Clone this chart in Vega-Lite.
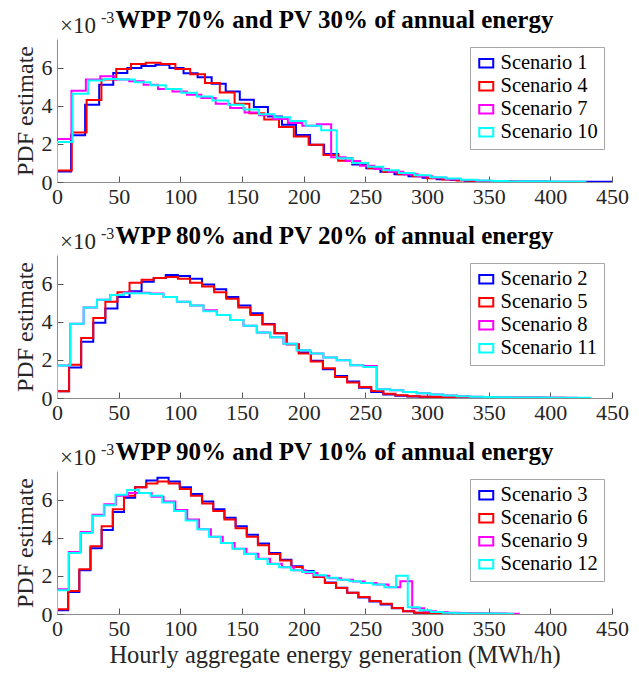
{
  "$schema": "https://vega.github.io/schema/vega-lite/v6.json",
  "background": "white",
  "padding": {"left": 12, "top": 8, "right": 5, "bottom": 5},
  "spacing": 17,
  "datasets": {
    "hist": [
      {"panel": 1, "scenario": "Scenario 1",
       "x": [0, 0, 11.4, 22.8, 34.2, 45.6, 57, 68.4, 79.8, 91.2, 102.6, 114, 125.4, 136.8, 148.2, 159.6, 171, 182.4, 193.8, 205.2, 216.6, 228, 239.4, 250.8, 262.2, 273.6, 285, 296.4, 307.8, 319.2, 330.6, 342, 353.4, 364.8, 376.2, 387.6, 399, 410.4, 421.8, 433.2, 444.6, 456],
       "pdf": [0, 0.55, 2.45, 4.05, 5.1, 5.72, 5.98, 6.08, 6.15, 5.98, 5.7, 5.5, 5.15, 4.75, 4.32, 3.93, 3.44, 3.0, 2.47, 1.95, 1.47, 1.24, 0.92, 0.72, 0.54, 0.4, 0.3, 0.22, 0.15, 0.1, 0.07, 0.05, 0.04, 0.03, 0.02, 0.02, 0.01, 0.01, 0.01, 0.01, 0.01, 0]},
      {"panel": 1, "scenario": "Scenario 4",
       "x": [0, 0, 12, 24, 36, 48, 60, 72, 84, 96, 108, 120, 132, 144, 156, 168, 180, 192, 204, 216, 228, 240, 252, 264, 276, 288, 300, 312, 324, 336, 348, 360, 372],
       "pdf": [0, 0.6, 2.6, 4.3, 5.37, 5.93, 6.19, 6.25, 6.19, 5.93, 5.65, 5.19, 4.7, 4.1, 3.6, 3.28, 2.88, 2.39, 1.95, 1.42, 1.12, 0.98, 0.72, 0.54, 0.4, 0.3, 0.2, 0.13, 0.08, 0.05, 0.03, 0.02, 0]},
      {"panel": 1, "scenario": "Scenario 7",
       "x": [0, 0, 11.7, 23.4, 35.1, 46.8, 58.5, 70.2, 81.9, 93.6, 105.3, 117, 128.7, 140.4, 152.1, 163.8, 175.5, 187.2, 198.9, 210.6, 222.3, 234, 245.7, 257.4, 269.1, 280.8, 292.5, 304.2, 315.9, 327.6, 339.3, 351, 362.7, 374.4],
       "pdf": [0, 2.25, 4.79, 5.38, 5.54, 5.37, 5.28, 5.1, 4.88, 4.75, 4.58, 4.4, 4.1, 3.88, 3.65, 3.5, 3.3, 3.1, 2.95, 3.03, 1.3, 1.1, 0.85, 0.68, 0.54, 0.4, 0.3, 0.22, 0.15, 0.1, 0.07, 0.05, 0.03, 0]},
      {"panel": 1, "scenario": "Scenario 10",
       "x": [0, 0, 12.6, 25.2, 37.8, 50.4, 63, 75.6, 88.2, 100.8, 113.4, 126, 138.6, 151.2, 163.8, 176.4, 189, 201.6, 214.2, 226.8, 239.4, 252, 264.6, 277.2, 289.8, 302.4, 315, 327.6, 340.2, 352.8, 365.4, 378, 390.6, 403.2, 415.8, 428.4],
       "pdf": [0, 2.1, 4.63, 5.33, 5.4, 5.37, 5.23, 5.08, 4.88, 4.68, 4.48, 4.28, 4.05, 3.8, 3.55, 3.4, 3.2, 2.95, 2.72, 1.25, 1.0, 0.8, 0.62, 0.47, 0.35, 0.25, 0.18, 0.12, 0.08, 0.05, 0.03, 0.02, 0.02, 0.01, 0.01, 0]},
      {"panel": 2, "scenario": "Scenario 2",
       "x": [0, 0, 9.8, 19.6, 29.4, 39.2, 49, 58.8, 68.6, 78.4, 88.2, 98, 107.8, 117.6, 127.4, 137.2, 147, 156.8, 166.6, 176.4, 186.2, 196, 205.8, 215.6, 225.4, 235.2, 245, 254.8, 264.6, 274.4, 284.2, 294, 303.8, 313.6, 323.4, 333.2, 343, 352.8, 362.6, 372.4, 382.2, 392],
       "pdf": [0, 0.35, 1.6, 2.95, 3.95, 4.7, 5.3, 5.6, 6.1, 6.3, 6.45, 6.4, 6.25, 5.95, 5.7, 5.3, 4.85, 4.44, 3.88, 3.39, 2.82, 2.39, 1.95, 1.51, 1.16, 0.86, 0.54, 0.32, 0.19, 0.12, 0.08, 0.06, 0.04, 0.03, 0.02, 0.02, 0.01, 0.01, 0.01, 0.01, 0.01, 0]},
      {"panel": 2, "scenario": "Scenario 5",
       "x": [0, 0, 9.8, 19.6, 29.4, 39.2, 49, 58.8, 68.6, 78.4, 88.2, 98, 107.8, 117.6, 127.4, 137.2, 147, 156.8, 166.6, 176.4, 186.2, 196, 205.8, 215.6, 225.4, 235.2, 245, 254.8, 264.6, 274.4, 284.2, 294, 303.8, 313.6, 323.4, 333.2, 343, 352.8, 362.6, 372.4, 382.2, 392, 401.8, 411.6],
       "pdf": [0, 0.35, 1.75, 3.15, 4.2, 5.05, 5.55, 6.05, 6.2, 6.3, 6.35, 6.25, 6.05, 5.85, 5.55, 5.2, 4.75, 4.35, 3.85, 3.39, 2.82, 2.33, 1.91, 1.56, 1.1, 0.81, 0.58, 0.37, 0.22, 0.14, 0.09, 0.06, 0.05, 0.04, 0.03, 0.02, 0.02, 0.01, 0.01, 0.01, 0.01, 0.01, 0.01, 0]},
      {"panel": 2, "scenario": "Scenario 8",
       "x": [0, 0, 10.8, 21.6, 32.4, 43.2, 54, 64.8, 75.6, 86.4, 97.2, 108, 118.8, 129.6, 140.4, 151.2, 162, 172.8, 183.6, 194.4, 205.2, 216, 226.8, 237.6, 248.4, 259.2, 270, 280.8, 291.6, 302.4, 313.2, 324, 334.8, 345.6, 356.4, 367.2, 378, 388.8, 399.6, 410.4, 421.2],
       "pdf": [0, 1.7, 3.9, 4.75, 5.15, 5.4, 5.53, 5.52, 5.48, 5.3, 5.05, 4.85, 4.6, 4.35, 4.09, 3.79, 3.44, 3.18, 2.85, 2.51, 2.33, 2.12, 1.98, 1.72, 1.68, 0.46, 0.4, 0.32, 0.25, 0.18, 0.13, 0.09, 0.07, 0.05, 0.04, 0.03, 0.02, 0.02, 0.01, 0.01, 0]},
      {"panel": 2, "scenario": "Scenario 11",
       "x": [0, 0, 10.8, 21.6, 32.4, 43.2, 54, 64.8, 75.6, 86.4, 97.2, 108, 118.8, 129.6, 140.4, 151.2, 162, 172.8, 183.6, 194.4, 205.2, 216, 226.8, 237.6, 248.4, 259.2, 270, 280.8, 291.6, 302.4, 313.2, 324, 334.8, 345.6, 356.4, 367.2, 378, 388.8, 399.6, 410.4, 421.2, 432],
       "pdf": [0, 1.7, 3.9, 4.75, 5.15, 5.4, 5.5, 5.5, 5.45, 5.3, 5.05, 4.85, 4.55, 4.35, 4.09, 3.79, 3.44, 3.18, 2.85, 2.51, 2.33, 2.12, 1.98, 1.72, 1.63, 0.46, 0.4, 0.32, 0.25, 0.18, 0.13, 0.09, 0.07, 0.05, 0.04, 0.03, 0.02, 0.02, 0.01, 0.01, 0.01, 0]},
      {"panel": 3, "scenario": "Scenario 3",
       "x": [0, 0, 9.05, 18.1, 27.15, 36.2, 45.25, 54.3, 63.35, 72.4, 81.45, 90.5, 99.55, 108.6, 117.65, 126.7, 135.75, 144.8, 153.85, 162.9, 171.95, 181, 190.05, 199.1, 208.15, 217.2, 226.25, 235.3, 244.35, 253.4, 262.45, 271.5, 280.55, 289.6, 298.65, 307.7, 316.75, 325.8, 334.85, 343.9, 352.95],
       "pdf": [0, 0.2, 1.15, 2.3, 3.45, 4.4, 5.35, 6.1, 6.65, 7.0, 7.15, 6.95, 6.65, 6.3, 5.9, 5.5, 5.05, 4.6, 4.15, 3.7, 3.2, 2.85, 2.5, 2.25, 1.97, 1.65, 1.38, 1.12, 0.87, 0.66, 0.5, 0.3, 0.14, 0.07, 0.05, 0.03, 0.02, 0.02, 0.01, 0.01, 0]},
      {"panel": 3, "scenario": "Scenario 6",
       "x": [0, 0, 9.05, 18.1, 27.15, 36.2, 45.25, 54.3, 63.35, 72.4, 81.45, 90.5, 99.55, 108.6, 117.65, 126.7, 135.75, 144.8, 153.85, 162.9, 171.95, 181, 190.05, 199.1, 208.15, 217.2, 226.25, 235.3, 244.35, 253.4, 262.45, 271.5, 280.55, 289.6, 298.65, 307.7, 316.75, 325.8, 334.85, 343.9, 352.95, 362],
       "pdf": [0, 0.25, 1.2, 2.35, 3.55, 4.6, 5.5, 6.2, 6.65, 6.85, 6.95, 6.85, 6.55, 6.2, 5.8, 5.4, 4.95, 4.5, 4.05, 3.6, 3.15, 2.8, 2.46, 2.2, 1.94, 1.62, 1.36, 1.12, 0.89, 0.68, 0.54, 0.31, 0.14, 0.07, 0.05, 0.03, 0.03, 0.02, 0.02, 0.01, 0.01, 0]},
      {"panel": 3, "scenario": "Scenario 9",
       "x": [0, 0, 9.6, 19.2, 28.8, 38.4, 48, 57.6, 67.2, 76.8, 86.4, 96, 105.6, 115.2, 124.8, 134.4, 144, 153.6, 163.2, 172.8, 182.4, 192, 201.6, 211.2, 220.8, 230.4, 240, 249.6, 259.2, 268.8, 278.4, 288, 297.6, 307.2, 316.8, 326.4, 336, 345.6, 355.2, 364.8, 374.4],
       "pdf": [0, 1.3, 3.25, 4.3, 5.2, 5.75, 6.2, 6.35, 6.35, 6.15, 5.9, 5.45, 4.95, 4.45, 4.05, 3.72, 3.42, 3.16, 2.9, 2.63, 2.45, 2.3, 2.15, 2.0, 1.88, 1.8, 1.7, 1.62, 1.55, 1.4, 1.72, 0.3, 0.15, 0.1, 0.06, 0.04, 0.03, 0.02, 0.02, 0.01, 0]},
      {"panel": 3, "scenario": "Scenario 12",
       "x": [0, 0, 9.48, 18.96, 28.44, 37.92, 47.4, 56.88, 66.36, 75.84, 85.32, 94.8, 104.28, 113.76, 123.24, 132.72, 142.2, 151.68, 161.16, 170.64, 180.12, 189.6, 199.08, 208.56, 218.04, 227.52, 237, 246.48, 255.96, 265.44, 274.92, 284.4, 293.88, 303.36, 312.84, 322.32, 331.8, 341.28, 350.76, 360.24, 369.72],
       "pdf": [0, 1.25, 3.2, 4.25, 5.15, 5.7, 6.25, 6.5, 6.35, 6.2, 5.85, 5.4, 4.9, 4.45, 4.05, 3.72, 3.42, 3.15, 2.88, 2.62, 2.45, 2.3, 2.2, 2.03, 1.9, 1.8, 1.72, 1.62, 1.55, 1.4, 2.0, 0.35, 0.2, 0.1, 0.06, 0.04, 0.03, 0.02, 0.02, 0.01, 0]}
    ],
    "exponent": [{"base": "×10", "exp": "-3"}]
  },
  "config": {
    "font": "Liberation Serif",
    "view": {"stroke": null},
    "text": {"font": "Liberation Serif"},
    "style": {
      "guide-label": {"font": "Liberation Serif"},
      "guide-title": {"font": "Liberation Serif"},
      "group-title": {"font": "Liberation Serif"}
    },
    "axis": {
      "grid": false,
      "labelFont": "Liberation Serif", "labelFontSize": 22, "labelColor": "#262626",
      "titleFont": "Liberation Serif", "titleFontSize": 24, "titleFontWeight": "normal", "titleColor": "#262626",
      "domainColor": "#8c8c8c", "domainWidth": 1,
      "tickColor": "#595959", "tickWidth": 1, "tickSize": -6,
      "labelFlush": false, "labelOverlap": false
    },
    "axisX": {"labelPadding": 10, "titlePadding": 4, "titleFontSize": 24.5},
    "axisY": {"labelPadding": 11, "titlePadding": 4},
    "legend": {"labelFont": "Liberation Serif"},
    "title": {"font": "Liberation Serif", "fontSize": 25, "fontWeight": "bold", "color": "black", "anchor": "middle", "frame": "group", "offset": 11, "baseline": "alphabetic", "dy": 34}
  },
  "resolve": {"scale": {"color": "independent"}, "legend": {"color": "independent"}},
  "vconcat": [
    {
      "width": 555, "height": 143,
      "title": "WPP 70% and PV 30% of annual energy",
      "layer": [
        {
          "data": {"name": "hist"},
          "transform": [{"filter": "datum.panel == 1"}, {"flatten": ["x", "pdf"]}],
          "mark": {"type": "line", "interpolate": "step-after", "strokeWidth": 2, "clip": true},
          "encoding": {
            "x": {"field": "x", "type": "quantitative", "scale": {"domain": [0, 450], "nice": false}, "axis": {"title": null, "values": [0, 50, 100, 150, 200, 250, 300, 350, 400, 450]}},
            "y": {"field": "pdf", "type": "quantitative", "scale": {"domain": [0, 7.5], "nice": false}, "axis": {"title": "PDF estimate", "values": [0, 2, 4, 6]}},
            "color": {"field": "scenario", "type": "nominal",
              "scale": {"domain": ["Scenario 1", "Scenario 4", "Scenario 7", "Scenario 10"], "range": ["#0000ff", "#ff0000", "#ff00ff", "#00ffff"]},
              "legend": {"title": null, "orient": "top-right", "offset": 8, "labelFont": "Liberation Serif", "labelFontSize": 20.5, "labelColor": "black", "symbolType": "M-1,-0.6H1V0.6H-1Z", "symbolSize": 196, "symbolStrokeWidth": 2, "symbolFillColor": "transparent", "strokeColor": "#a6a6a6", "fillColor": "white", "padding": 6, "rowPadding": 2, "labelOffset": 4, "cornerRadius": 0}},
            "order": {"value": null}
          }
        },
        {
          "data": {"name": "exponent"},
          "mark": {"type": "text", "font": "Liberation Serif", "align": "left", "baseline": "alphabetic", "fontSize": 23, "color": "#262626", "dx": 3, "dy": -6},
          "encoding": {"x": {"datum": 0}, "y": {"datum": 7.5}, "text": {"field": "base"}}
        },
        {
          "data": {"name": "exponent"},
          "mark": {"type": "text", "font": "Liberation Serif", "align": "left", "baseline": "alphabetic", "fontSize": 16, "color": "#262626", "dx": 44, "dy": -16},
          "encoding": {"x": {"datum": 0}, "y": {"datum": 7.5}, "text": {"field": "exp"}}
        }
      ]
    },
    {
      "width": 555, "height": 143,
      "title": "WPP 80% and PV 20% of annual energy",
      "layer": [
        {
          "data": {"name": "hist"},
          "transform": [{"filter": "datum.panel == 2"}, {"flatten": ["x", "pdf"]}],
          "mark": {"type": "line", "interpolate": "step-after", "strokeWidth": 2, "clip": true},
          "encoding": {
            "x": {"field": "x", "type": "quantitative", "scale": {"domain": [0, 450], "nice": false}, "axis": {"title": null, "values": [0, 50, 100, 150, 200, 250, 300, 350, 400, 450]}},
            "y": {"field": "pdf", "type": "quantitative", "scale": {"domain": [0, 7.5], "nice": false}, "axis": {"title": "PDF estimate", "values": [0, 2, 4, 6]}},
            "color": {"field": "scenario", "type": "nominal",
              "scale": {"domain": ["Scenario 2", "Scenario 5", "Scenario 8", "Scenario 11"], "range": ["#0000ff", "#ff0000", "#ff00ff", "#00ffff"]},
              "legend": {"title": null, "orient": "top-right", "offset": 8, "labelFont": "Liberation Serif", "labelFontSize": 20.5, "labelColor": "black", "symbolType": "M-1,-0.6H1V0.6H-1Z", "symbolSize": 196, "symbolStrokeWidth": 2, "symbolFillColor": "transparent", "strokeColor": "#a6a6a6", "fillColor": "white", "padding": 6, "rowPadding": 2, "labelOffset": 4, "cornerRadius": 0}},
            "order": {"value": null}
          }
        },
        {
          "data": {"name": "exponent"},
          "mark": {"type": "text", "font": "Liberation Serif", "align": "left", "baseline": "alphabetic", "fontSize": 23, "color": "#262626", "dx": 3, "dy": -6},
          "encoding": {"x": {"datum": 0}, "y": {"datum": 7.5}, "text": {"field": "base"}}
        },
        {
          "data": {"name": "exponent"},
          "mark": {"type": "text", "font": "Liberation Serif", "align": "left", "baseline": "alphabetic", "fontSize": 16, "color": "#262626", "dx": 44, "dy": -16},
          "encoding": {"x": {"datum": 0}, "y": {"datum": 7.5}, "text": {"field": "exp"}}
        }
      ]
    },
    {
      "width": 555, "height": 143,
      "title": "WPP 90% and PV 10% of annual energy",
      "layer": [
        {
          "data": {"name": "hist"},
          "transform": [{"filter": "datum.panel == 3"}, {"flatten": ["x", "pdf"]}],
          "mark": {"type": "line", "interpolate": "step-after", "strokeWidth": 2, "clip": true},
          "encoding": {
            "x": {"field": "x", "type": "quantitative", "scale": {"domain": [0, 450], "nice": false}, "axis": {"title": "Hourly aggregate energy generation (MWh/h)", "values": [0, 50, 100, 150, 200, 250, 300, 350, 400, 450]}},
            "y": {"field": "pdf", "type": "quantitative", "scale": {"domain": [0, 7.5], "nice": false}, "axis": {"title": "PDF estimate", "values": [0, 2, 4, 6]}},
            "color": {"field": "scenario", "type": "nominal",
              "scale": {"domain": ["Scenario 3", "Scenario 6", "Scenario 9", "Scenario 12"], "range": ["#0000ff", "#ff0000", "#ff00ff", "#00ffff"]},
              "legend": {"title": null, "orient": "top-right", "offset": 8, "labelFont": "Liberation Serif", "labelFontSize": 20.5, "labelColor": "black", "symbolType": "M-1,-0.6H1V0.6H-1Z", "symbolSize": 196, "symbolStrokeWidth": 2, "symbolFillColor": "transparent", "strokeColor": "#a6a6a6", "fillColor": "white", "padding": 6, "rowPadding": 2, "labelOffset": 4, "cornerRadius": 0}},
            "order": {"value": null}
          }
        },
        {
          "data": {"name": "exponent"},
          "mark": {"type": "text", "font": "Liberation Serif", "align": "left", "baseline": "alphabetic", "fontSize": 23, "color": "#262626", "dx": 3, "dy": -6},
          "encoding": {"x": {"datum": 0}, "y": {"datum": 7.5}, "text": {"field": "base"}}
        },
        {
          "data": {"name": "exponent"},
          "mark": {"type": "text", "font": "Liberation Serif", "align": "left", "baseline": "alphabetic", "fontSize": 16, "color": "#262626", "dx": 44, "dy": -16},
          "encoding": {"x": {"datum": 0}, "y": {"datum": 7.5}, "text": {"field": "exp"}}
        }
      ]
    }
  ]
}
